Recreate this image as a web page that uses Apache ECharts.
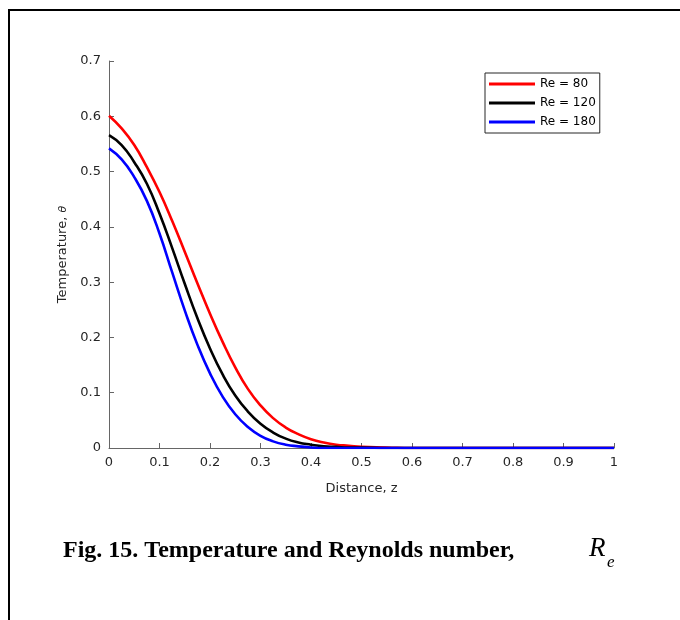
<!DOCTYPE html>
<html>
<head>
<meta charset="utf-8">
<script src="https://cdn.jsdelivr.net/npm/echarts@6/dist/echarts.min.js"></script>
<style>
html,body{margin:0;padding:0;background:#fff;}
#chart{width:680px;height:620px;}
</style>
</head>
<body>
<div id="chart"></div>
<script>
// Distance z (x-axis sample points)
const zValues = [0, 0.025, 0.05, 0.075, 0.1, 0.125, 0.15, 0.175, 0.2, 0.225, 0.25, 0.275, 0.3, 0.325, 0.35, 0.375, 0.4, 0.425, 0.45, 0.475, 0.5, 0.55, 0.6, 0.7, 0.8, 0.9, 1];
// Temperature theta for each Reynolds number
const re80  = [0.601, 0.578, 0.548, 0.508, 0.463, 0.411, 0.355, 0.298, 0.243, 0.192, 0.146, 0.107, 0.077, 0.054, 0.037, 0.025, 0.016, 0.010, 0.006, 0.004, 0.002, 0.001, 0, 0, 0, 0, 0];
const re120 = [0.566, 0.548, 0.517, 0.478, 0.424, 0.362, 0.297, 0.235, 0.180, 0.133, 0.095, 0.066, 0.044, 0.028, 0.017, 0.010, 0.006, 0.003, 0.002, 0.001, 0.001, 0, 0, 0, 0, 0, 0];
const re180 = [0.542, 0.522, 0.490, 0.447, 0.388, 0.318, 0.249, 0.187, 0.135, 0.093, 0.061, 0.038, 0.022, 0.012, 0.006, 0.003, 0.001, 0, 0, 0, 0, 0, 0, 0, 0, 0, 0];
const seriesNames = ['Re = 80', 'Re = 120', 'Re = 180'];
const seriesColors = ['#ff0000', '#000000', '#0000ff'];
const xTicks = [0, 0.1, 0.2, 0.3, 0.4, 0.5, 0.6, 0.7, 0.8, 0.9, 1];
const yTicks = [0, 0.1, 0.2, 0.3, 0.4, 0.5, 0.6, 0.7];

const allSeries = [re80, re120, re180];
const chart = echarts.init(document.getElementById('chart'), null, {renderer: 'canvas'});
const axisColor = '#666666';
const labelColor = '#262626';
const sans = '"DejaVu Sans", sans-serif';
const option = {
  animation: false,
  backgroundColor: '#ffffff',
  grid: {left: 109, right: 66, top: 61, bottom: 172, containLabel: false},
  xAxis: {
    type: 'value', min: xTicks[0], max: xTicks[xTicks.length - 1], interval: 0.1,
    name: 'Distance, z', nameLocation: 'middle', nameGap: 34,
    nameTextStyle: {fontFamily: sans, fontSize: 13, color: labelColor},
    axisLine: {show: true, lineStyle: {color: axisColor, width: 1}},
    axisTick: {show: true, inside: true, length: 5, lineStyle: {color: axisColor}},
    axisLabel: {fontFamily: sans, fontSize: 13, color: labelColor, margin: 8,
      formatter: v => String(Math.round(v * 10) / 10)},
    splitLine: {show: false}
  },
  yAxis: {
    type: 'value', min: yTicks[0], max: yTicks[yTicks.length - 1], interval: 0.1,
    name: 'Temperature, {i|θ}', nameLocation: 'middle', nameGap: 38,
    nameTextStyle: {fontFamily: sans, fontSize: 13, color: labelColor,
      rich: {i: {fontFamily: sans, fontStyle: 'italic', fontSize: 11, color: labelColor}}},
    axisLine: {show: true, lineStyle: {color: axisColor, width: 1}},
    axisTick: {show: true, inside: true, length: 5, lineStyle: {color: axisColor}},
    axisLabel: {fontFamily: sans, fontSize: 13, color: labelColor, margin: 8,
      formatter: v => String(Math.round(v * 10) / 10)},
    splitLine: {show: false}
  },
  legend: {
    orient: 'vertical', left: 485, top: 73,
    padding: [3, 4, 3, 4], itemGap: 3,
    itemWidth: 46, itemHeight: 3, icon: 'rect',
    borderColor: '#262626', borderWidth: 1, backgroundColor: '#fff',
    textStyle: {fontFamily: sans, fontSize: 12, color: '#000', lineHeight: 16},
    data: seriesNames
  },
  series: allSeries.map((vals, i) => ({
    name: seriesNames[i], type: 'line',
    data: zValues.map((z, k) => [z, vals[k]]),
    showSymbol: false, smooth: 0.5,
    lineStyle: {color: seriesColors[i], width: 2.6},
    itemStyle: {color: seriesColors[i]},
    z: 2 + i
  })),
  graphic: [
    {type: 'line', shape: {x1: 8, y1: 10, x2: 680, y2: 10}, style: {stroke: '#000', lineWidth: 2}},
    {type: 'line', shape: {x1: 9, y1: 9, x2: 9, y2: 620}, style: {stroke: '#000', lineWidth: 2}},
    {type: 'text', left: 63, top: 539, style: {text: 'Fig. 15. Temperature and Reynolds number,', font: 'bold 24px "Liberation Serif", "Times New Roman", serif', fill: '#000'}},
    {type: 'text', left: 589, top: 535, style: {text: 'R', font: 'italic 27px "Liberation Serif", "Times New Roman", serif', fill: '#000'}},
    {type: 'text', left: 607, top: 554, style: {text: 'e', font: 'italic 17px "Liberation Serif", "Times New Roman", serif', fill: '#000'}}
  ]
};
chart.setOption(option);
</script>
</body>
</html>
